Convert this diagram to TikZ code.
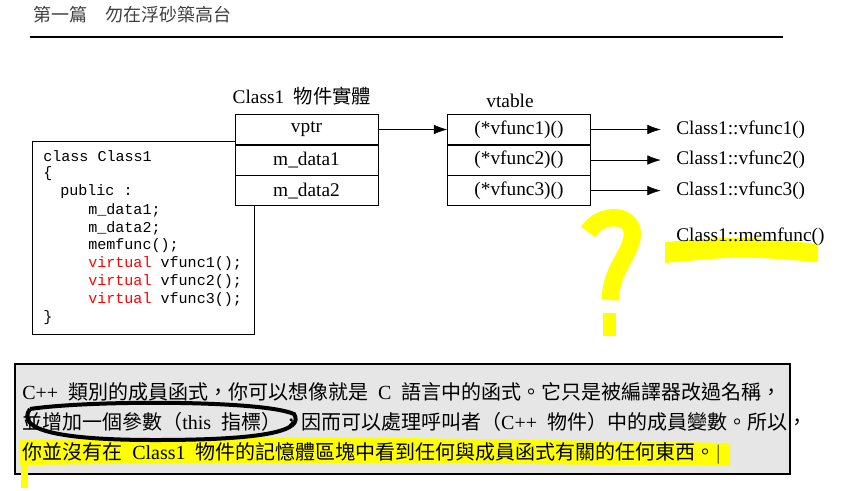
\documentclass[tikz,border=0pt]{standalone}
\usepackage{fontspec}
\setmainfont{Liberation Serif}
\setmonofont{Liberation Mono}
\newfontfamily\cjk{Noto Sans CJK TC}
\usetikzlibrary{positioning,arrows.meta,calc}
\definecolor{hlYellow}{RGB}{255,255,0}
\definecolor{boxGray}{RGB}{230,230,230}
\tikzset{
  cell/.style={draw, minimum width=107.25pt, minimum height=22.5pt, inner sep=0pt, font=\fontsize{14.5}{16}\selectfont},
  fname/.style={anchor=west, font=\fontsize{14.5}{16}\selectfont, inner sep=0pt},
  link/.style={-{Latex[length=10pt,width=7pt]}},
  codeline/.style={anchor=west, font=\ttfamily\fontsize{11.3}{12}\selectfont, inner sep=0pt},
  bodyline/.style={anchor=west, font=\fontsize{15}{17}\selectfont, inner sep=0pt}
}
\begin{document}
\begin{tikzpicture}[x=0.75pt,y=-0.75pt]
  \useasboundingbox (0,0) rectangle (845,490);
  % header
  \node[anchor=west, inner sep=0pt, font=\cjk\fontsize{13.5}{15}\selectfont, text=black!75] (head) at (33,15) {第一篇\quad 勿在浮砂築高台};
  \draw[line width=1.5pt] (30,37) -- (783,37);

  % class declaration
  \draw[fill=white] (32,141) rectangle (254,334);
  \node[codeline] (c1) at (43,156) {class Class1};
  \node[codeline] (c2) at (43,174) {\{};
  \node[codeline] (c3) at (60,192) {public :};
  \node[codeline] (c4) at (88,210) {m\_data1;};
  \node[codeline] (c5) at (88,228) {m\_data2;};
  \node[codeline] (c6) at (88,246) {memfunc();};
  \foreach \i/\y in {1/264,2/282,3/300}
    \node[codeline] (v\i) at (88,\y) {\textcolor{red}{virtual} vfunc\i();};
  \node[codeline] (c7) at (43,318) {\}};

  % object layout
  \node[font=\fontsize{14.5}{16}\selectfont] (objtitle) at (302,96) {Class1\ \ {\cjk 物件實體}};
  \node[cell, fill=white] (vptr) at (306.5,129.5) {vptr};
  \node[cell, fill=white, below=0pt of vptr] (d1) {m\_data1};
  \node[cell, fill=white, below=0pt of d1] (d2) {m\_data2};

  % vtable
  \node[font=\fontsize{14.5}{16}\selectfont] (vttitle) at (510,101) {vtable};
  \node[cell] (t1) at (519,129.5) {(*vfunc1)()};
  \node[cell, below=0pt of t1] (t2) {(*vfunc2)()};
  \node[cell, below=0pt of t2] (t3) {(*vfunc3)()};
  \draw[link] (vptr) -- (t1);

  \foreach \i in {1,2,3} {
    \node[fname] (f\i) at (676,129.5+30.5*\i-30.5) {Class1::vfunc\i()};
    \draw[link] (t\i.east) -- ++(70,0) coordinate (e\i);
  }

  % memfunc with highlight
  \fill[hlYellow] (665,242) .. controls (740,236) .. (818,244) -- (818,262) .. controls (740,256) .. (665,263) -- cycle;
  \node[fname] (mf) at (676,237) {Class1::memfunc()};

  % question mark
  \draw[hlYellow, line width=13pt] (588,232) .. controls (600,212) and (636,212) .. (632,238)
    .. controls (628,258) and (612,268) .. (610,300);
  \fill[hlYellow] (603,313) rectangle (616,336);

  % explanation box
  \draw[line width=2pt, fill=boxGray] (15,364) rectangle (790,474);
  \fill[hlYellow] (20,440) .. controls (300,436) .. (730,443) -- (730,466) .. controls (300,462) .. (20,465) -- cycle;
  \fill[hlYellow] (21,462) rectangle (28,488);
  \node[bodyline] (b1) at (22,392) {C++\ \ {\cjk 類別的成員函式，你可以想像就是}\ \ C\ \ {\cjk 語言中的函式。它只是被編譯器改過名稱，}};
  \node[bodyline] (b2) at (22,422) {{\cjk 並增加一個參數（}this\ \ {\cjk 指標），因而可以處理呼叫者（}C++\ \ {\cjk 物件）中的成員變數。所以，}};
  \node[bodyline] (b3) at (22,453) {{\cjk 你並沒有在}\ \ Class1\ \ {\cjk 物件的記憶體區塊中看到任何與成員函式有關的任何東西。}$|$};
  \draw[line width=3pt] (30,409) .. controls (90,400) and (262,400) .. (294,414)
    .. controls (304,430) and (270,440) .. (155,440) .. controls (60,440) and (15,430) .. (30,409);
\end{tikzpicture}
\end{document}
